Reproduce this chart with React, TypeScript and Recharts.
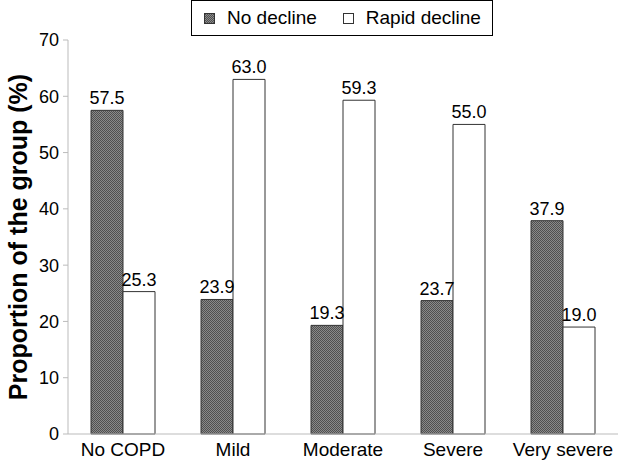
import React from "react";
import { BarChart, Bar, XAxis, YAxis, LabelList, Legend, Label } from "recharts";

const categories = ["No COPD", "Mild", "Moderate", "Severe", "Very severe"];
const noDecline = [57.5, 23.9, 19.3, 23.7, 37.9];
const rapidDecline = [25.3, 63.0, 59.3, 55.0, 19.0];
const yTicks = [0, 10, 20, 30, 40, 50, 60, 70];
const boundaryTicks = [0, 1, 2, 3, 4, 5];

const data = categories.map((c, i) => ({ name: c, no: noDecline[i], rapid: rapidDecline[i] }));

const FONT = "'Liberation Sans', Arial, sans-serif";

const LegendContent = () => (
  <div
    style={{
      border: "1px solid #000",
      height: 36,
      boxSizing: "border-box",
      display: "flex",
      alignItems: "center",
      fontFamily: FONT,
      fontSize: 19,
      color: "#000",
      paddingLeft: 12,
      background: "#fff",
    }}
  >
    <svg width={11} height={11} style={{ marginRight: 12 }}>
      <rect x={0.5} y={0.5} width={10} height={10} fill="url(#hatch)" stroke="#333" />
    </svg>
    <span style={{ marginRight: 26 }}>No decline</span>
    <svg width={11} height={11} style={{ marginRight: 12 }}>
      <rect x={0.5} y={0.5} width={10} height={10} fill="#fff" stroke="#333" />
    </svg>
    <span>Rapid decline</span>
  </div>
);

const fmt = (v: number) => v.toFixed(1);

export default function App() {
  return (
    <div style={{ position: "absolute", left: 0, top: 0, width: 620, height: 462, background: "#fff" }}>
      <BarChart
        width={620}
        height={462}
        data={data}
        margin={{ top: 4, right: 2, bottom: 0, left: 0 }}
        barGap={0}
        barSize={32}
      >
        <defs>
          <pattern id="hatch" width="2" height="2" patternUnits="userSpaceOnUse">
            <rect width="2" height="2" fill="#8a8a8a" />
            <rect x="0" y="0" width="1" height="1" fill="#505050" />
            <rect x="1" y="1" width="1" height="1" fill="#505050" />
          </pattern>
        </defs>
        <XAxis
          xAxisId="grid"
          type="number"
          domain={[0, 5]}
          ticks={boundaryTicks}
          tick={false}
          height={0}
          axisLine={false}
          tickLine={{ stroke: "#bbb" }}
          tickSize={6}
        />
        <XAxis
          dataKey="name"
          height={28}
          tickLine={false}
          axisLine={{ stroke: "#bbb" }}
          tick={{ fill: "#000", fontSize: 19, fontFamily: FONT }}
          tickMargin={3}
          interval={0}
        />
        <YAxis
          width={68}
          domain={[0, 70]}
          ticks={yTicks}
          interval={0}
          axisLine={{ stroke: "#bbb" }}
          tickLine={{ stroke: "#bbb" }}
          tickSize={5}
          tickMargin={4}
          tick={{ fill: "#000", fontSize: 18, fontFamily: FONT }}
        >
          <Label
            value="Proportion of the group (%)"
            angle={-90}
            position="insideLeft"
            offset={18}
            style={{ fontSize: 25, fontWeight: "bold", fontFamily: FONT, fill: "#000", textAnchor: "middle" }}
          />
        </YAxis>
        <Legend
          verticalAlign="top"
          content={<LegendContent />}
          wrapperStyle={{ top: 0, left: 191, width: 302, height: 36 }}
        />
        <Bar dataKey="no" name="No decline" fill="url(#hatch)" stroke="#333" strokeWidth={1} isAnimationActive={false}>
          <LabelList dataKey="no" position="top" offset={6} formatter={fmt} style={{ fill: "#000", fontSize: 18, fontFamily: FONT }} />
        </Bar>
        <Bar dataKey="rapid" name="Rapid decline" fill="#fff" stroke="#333" strokeWidth={1} isAnimationActive={false}>
          <LabelList dataKey="rapid" position="top" offset={6} formatter={fmt} style={{ fill: "#000", fontSize: 18, fontFamily: FONT }} />
        </Bar>
      </BarChart>
    </div>
  );
}
